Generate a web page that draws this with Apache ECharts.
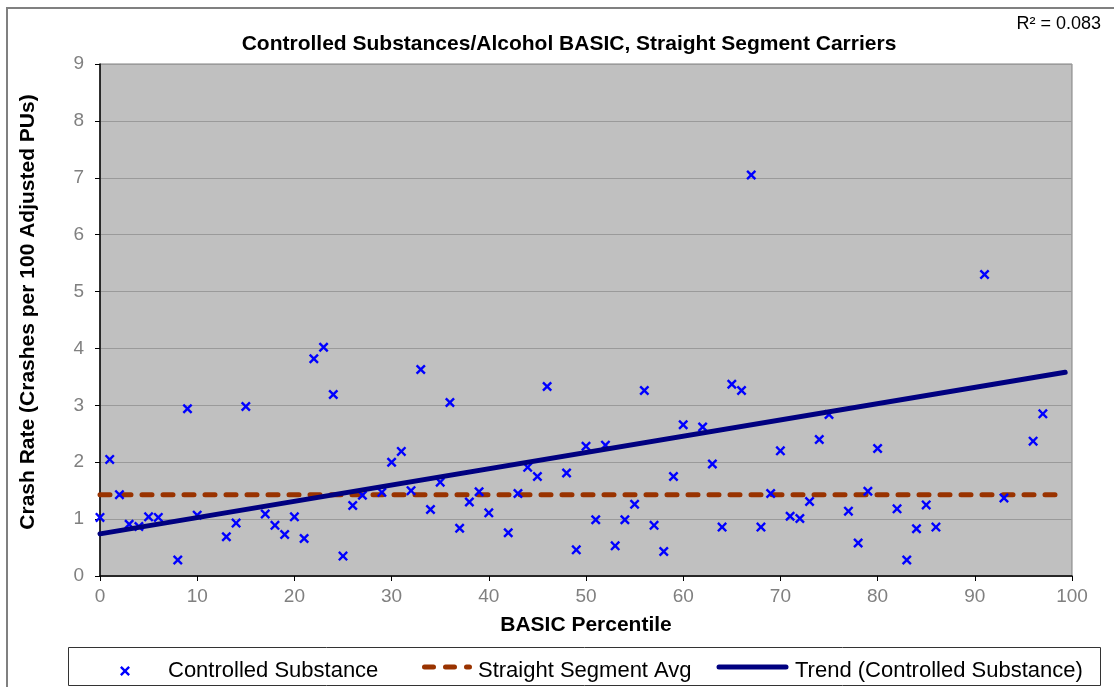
<!DOCTYPE html>
<html>
<head>
<meta charset="utf-8">
<script src="https://cdn.jsdelivr.net/npm/echarts@6/dist/echarts.min.js"></script>
<style>html,body{margin:0;padding:0;background:#fff;}#chart{width:1114px;height:687px;}</style>
</head>
<body>
<div id="chart"></div>
<script>
const percentile = [0,1,2,3,4,5,6,8,9,10,13,14,15,17,18,19,20,21,22,23,24,25,26,27,29,30,31,32,33,34,35,36,37,38,39,40,42,43,44,45,46,48,49,50,51,52,53,54,55,56,57,58,59,60,62,63,64,65,66,67,68,69,70,71,72,73,74,75,77,78,79,80,82,83,84,85,86,91,93,96,97];
const crashRate = [1.03,2.05,1.43,0.91,0.87,1.04,1.03,0.28,2.94,1.07,0.69,0.93,2.98,1.09,0.89,0.73,1.04,0.66,3.82,4.02,3.19,0.35,1.24,1.42,1.47,2.00,2.19,1.50,3.63,1.17,1.65,3.05,0.84,1.30,1.48,1.11,0.76,1.45,1.91,1.75,3.33,1.81,0.46,2.28,0.99,2.30,0.53,0.99,1.26,3.26,0.89,0.43,1.75,2.66,2.62,1.97,0.86,3.37,3.26,7.05,0.86,1.45,2.20,1.05,1.01,1.31,2.40,2.84,1.14,0.58,1.49,2.24,1.18,0.28,0.83,1.25,0.86,5.30,1.37,2.37,2.85];
const avgX = [0, 99.3];
const avgY = [1.43, 1.43];
const trendX = [0, 99.3];
const trendY = [0.74, 3.58];
const xTicks = [0,10,20,30,40,50,60,70,80,90,100];
const yTicks = [0,1,2,3,4,5,6,7,8,9];
const titleText = 'Controlled Substances/Alcohol BASIC, Straight Segment Carriers';
const r2Text = 'R² = 0.083';
const seriesNames = ['Controlled Substance', 'Straight Segment Avg', 'Trend (Controlled Substance)'];

const xMark = 'path://M0,1.7L1.7,0L5,3.3L8.3,0L10,1.7L6.7,5L10,8.3L8.3,10L5,6.7L1.7,10L0,8.3L3.3,5Z';
const font = 'Arial, "Liberation Sans", sans-serif';
const legendText = {fontFamily: font, fontSize: 22, color: '#000'};

const chart = echarts.init(document.getElementById('chart'));
chart.setOption({
  animation: false,
  backgroundColor: '#fff',
  title: {
    text: titleText,
    left: 564, top: 29, textAlign: 'center',
    textStyle: {fontFamily: font, fontWeight: 'bold', fontSize: 21, color: '#000'}
  },
  graphic: [
    {type: 'rect', shape: {x: 7, y: 8, width: 1120, height: 700}, style: {fill: 'none', stroke: '#808080', lineWidth: 2}, z: -1},
    {type: 'rect', shape: {x: 68.5, y: 647.5, width: 1032, height: 38}, style: {fill: '#fff', stroke: '#333', lineWidth: 1}, z: -1},
    {type: 'text', right: 13, top: 15, style: {text: r2Text, font: '18px Arial, "Liberation Sans", sans-serif', fill: '#000'}},
    {type: 'line', shape: {x1: 424.5, y1: 667, x2: 469.5, y2: 667}, style: {stroke: '#993300', lineWidth: 5, lineDash: [9, 12], lineCap: 'round'}, z: 10},
    {type: 'line', shape: {x1: 719, y1: 667, x2: 786, y2: 667}, style: {stroke: '#000080', lineWidth: 5, lineCap: 'round'}, z: 10}
  ],
  legend: [
    {data: [{name: seriesNames[0], icon: xMark}], left: 115, top: 655, itemWidth: 10, itemHeight: 10,
     textStyle: Object.assign({padding: [0,0,0,33]}, legendText)},
    {data: [{name: seriesNames[1], icon: 'rect', itemStyle: {color: 'rgba(0,0,0,0)'}}], left: 415, top: 655, itemWidth: 52, itemHeight: 6,
     textStyle: Object.assign({padding: [0,0,0,1]}, legendText)},
    {data: [{name: seriesNames[2], icon: 'rect', itemStyle: {color: 'rgba(0,0,0,0)'}}], left: 711, top: 655, itemWidth: 72, itemHeight: 6,
     textStyle: Object.assign({padding: [0,0,0,2]}, legendText)}
  ],
  grid: {left: 100, right: 42, top: 64, bottom: 111, show: true, backgroundColor: '#C0C0C0', borderColor: '#808080', borderWidth: 1, containLabel: false},
  xAxis: {
    type: 'value', min: xTicks[0], max: xTicks[xTicks.length-1], interval: 10,
    name: 'BASIC Percentile', nameLocation: 'middle', nameGap: 39,
    nameTextStyle: {fontFamily: font, fontWeight: 'bold', fontSize: 21, color: '#000'},
    axisLine: {show: true, lineStyle: {color: '#000', width: 1.5}},
    axisTick: {show: true, length: 5, inside: false, lineStyle: {color: '#000'}},
    axisLabel: {fontFamily: font, fontSize: 19, color: '#808080', margin: 11},
    splitLine: {show: false}
  },
  yAxis: {
    type: 'value', min: yTicks[0], max: yTicks[yTicks.length-1], interval: 1,
    name: 'Crash Rate (Crashes per 100 Adjusted PUs)', nameLocation: 'middle', nameGap: 61,
    nameTextStyle: {fontFamily: font, fontWeight: 'bold', fontSize: 21, color: '#000', padding: [0,0,0,16]},
    axisLine: {show: true, lineStyle: {color: '#000', width: 1.5}},
    axisTick: {show: true, length: 5, inside: false, lineStyle: {color: '#000'}},
    axisLabel: {fontFamily: font, fontSize: 19, color: '#808080', margin: 16},
    splitLine: {show: true, lineStyle: {color: '#9a9a9a', width: 1}}
  },
  series: [
    {
      name: seriesNames[0], type: 'scatter', z: 3,
      symbol: xMark, symbolSize: 10,
      itemStyle: {color: '#0000FF', opacity: 1},
      data: percentile.map((x, i) => [x, crashRate[i]])
    },
    {
      name: seriesNames[1], type: 'line', z: 2, symbol: 'none',
      lineStyle: {color: '#993300', width: 5, type: [10, 11], cap: 'round'},
      itemStyle: {color: '#993300'},
      data: avgX.map((x, i) => [x, avgY[i]])
    },
    {
      name: seriesNames[2], type: 'line', z: 4, symbol: 'none',
      lineStyle: {color: '#000080', width: 5, cap: 'round'},
      itemStyle: {color: '#000080'},
      data: trendX.map((x, i) => [x, trendY[i]])
    }
  ]
});
</script>
</body>
</html>
